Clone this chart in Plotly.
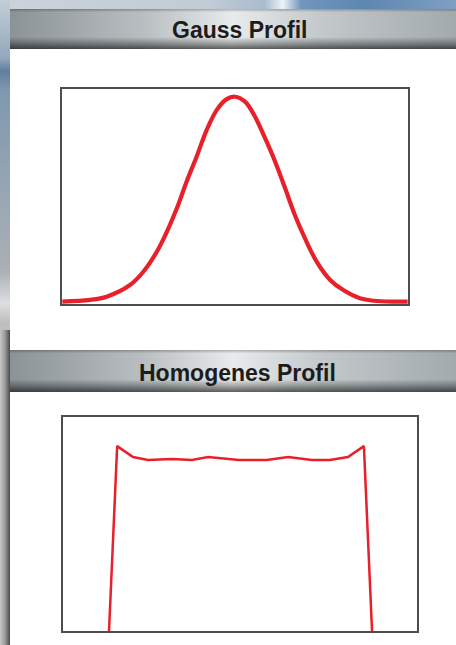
import base64
import plotly.graph_objects as go

# ---- Data ----
gauss_x = [0.1, 8.1, 12.9, 19.65, 23.5, 27.4, 30.3, 33.2, 36.0, 38.9, 41.8, 44.7, 47.6, 50.0,
           52.9, 55.8, 58.7, 61.6, 64.5, 67.3, 70.2, 73.6, 77.5, 81.3, 86.1, 91.0, 99.9]
gauss_y = [1.1, 1.9, 3.4, 8.8, 15.0, 24.3, 33.6, 44.5, 56.9, 68.5, 80.9, 90.2, 95.3, 96.4,
           94.1, 87.1, 77.1, 66.2, 53.8, 41.4, 30.6, 19.7, 11.2, 6.5, 2.7, 1.4, 1.1]

homog_x = [13.0, 15.3, 19.8, 24.0, 30.8, 36.4, 41.0, 49.7, 57.6, 63.6, 70.3, 75.4, 80.5, 85.0, 87.3]
homog_y = [0.0, 86.4, 81.3, 79.9, 80.4, 79.9, 81.3, 79.9, 79.9, 81.3, 79.9, 79.9, 81.3, 86.4, 0.0]

titles = ["Gauss Profil", "Homogenes Profil"]

W, H = 456, 645
RED = "#e8202a"
FRAME = "#4d4d4d"

# ---- Decorative background as an SVG image ----
svg = f'''<svg xmlns="http://www.w3.org/2000/svg" width="{W}" height="{H}" viewBox="0 0 {W} {H}">
<defs>
 <linearGradient id="topg" x1="0" y1="0" x2="1" y2="0">
  <stop offset="0" stop-color="#cbd3da"/>
  <stop offset="0.45" stop-color="#c2ccd6"/>
  <stop offset="0.58" stop-color="#a9bccd"/>
  <stop offset="0.62" stop-color="#eef3f7"/>
  <stop offset="0.66" stop-color="#7196bd"/>
  <stop offset="0.8" stop-color="#5d86b1"/>
  <stop offset="1" stop-color="#7fa0c2"/>
 </linearGradient>
 <linearGradient id="leftv" x1="0" y1="0" x2="0" y2="1">
  <stop offset="0" stop-color="#c4ced8"/>
  <stop offset="0.09" stop-color="#93a8bc"/>
  <stop offset="0.11" stop-color="#5e7fa0"/>
  <stop offset="0.14" stop-color="#7f98b0"/>
  <stop offset="0.3" stop-color="#98a6b3"/>
  <stop offset="0.42" stop-color="#aab0b5"/>
  <stop offset="0.47" stop-color="#dcdee0"/>
  <stop offset="0.5" stop-color="#bdbfc1"/>
  <stop offset="1" stop-color="#a0a0a0"/>
 </linearGradient>
 <linearGradient id="lefth" x1="0" y1="0" x2="1" y2="0">
  <stop offset="0" stop-color="#c8c8c8"/>
  <stop offset="0.5" stop-color="#9a9a9a"/>
  <stop offset="1" stop-color="#4a4a4a"/>
 </linearGradient>
 <linearGradient id="hdrh" x1="0" y1="0" x2="1" y2="0">
  <stop offset="0" stop-color="#8b9397"/>
  <stop offset="0.3" stop-color="#b9bec1"/>
  <stop offset="0.5" stop-color="#e8ebec"/>
  <stop offset="0.7" stop-color="#c3c8ca"/>
  <stop offset="1" stop-color="#a2aaae"/>
 </linearGradient>
 <linearGradient id="hdrv" x1="0" y1="0" x2="0" y2="1">
  <stop offset="0" stop-color="#000" stop-opacity="0.25"/>
  <stop offset="0.08" stop-color="#000" stop-opacity="0.0"/>
  <stop offset="0.7" stop-color="#000" stop-opacity="0.0"/>
  <stop offset="0.86" stop-color="#000" stop-opacity="0.3"/>
  <stop offset="1" stop-color="#000" stop-opacity="0.6"/>
 </linearGradient>
</defs>
<rect x="0" y="0" width="{W}" height="{H}" fill="#ffffff"/>
<rect x="0" y="0" width="{W}" height="10" fill="url(#topg)"/>
<rect x="0" y="0" width="10" height="{H}" fill="url(#leftv)"/>
<rect x="0" y="330" width="10" height="315" fill="url(#lefth)"/>
<rect x="10" y="9" width="446" height="40" fill="url(#hdrh)"/>
<rect x="10" y="9" width="446" height="40" fill="url(#hdrv)"/>
<rect x="10" y="350" width="446" height="42" fill="url(#hdrh)"/>
<rect x="10" y="350" width="446" height="42" fill="url(#hdrv)"/>
</svg>'''
bg_src = "data:image/svg+xml;base64," + base64.b64encode(svg.encode()).decode()

fig = go.Figure()
fig.add_trace(go.Scatter(x=gauss_x, y=gauss_y, mode="lines",
                         line=dict(color=RED, width=4.2, shape="spline", smoothing=1.0),
                         xaxis="x", yaxis="y", hoverinfo="skip"))
fig.add_trace(go.Scatter(x=homog_x, y=homog_y, mode="lines",
                         line=dict(color=RED, width=2.5),
                         xaxis="x2", yaxis="y2", hoverinfo="skip"))

ax_common = dict(showgrid=False, zeroline=False, showticklabels=False, ticks="",
                 showline=True, mirror=True, linecolor=FRAME, linewidth=1.5, fixedrange=True)

title_font = dict(family="Liberation Sans, Arial, sans-serif", size=23, color="#1c1c1c", weight="bold")

fig.update_layout(
    width=W, height=H, autosize=False,
    margin=dict(l=0, r=0, t=0, b=0, pad=0),
    paper_bgcolor="#ffffff", plot_bgcolor="rgba(0,0,0,0)",
    showlegend=False,
    xaxis=dict(domain=[62 / W, 408 / W], range=[0, 100], **ax_common),
    yaxis=dict(domain=[1 - 304 / H, 1 - 89 / H], range=[0, 100], **ax_common),
    xaxis2=dict(domain=[63 / W, 417 / W], range=[0, 100], anchor="y2", **ax_common),
    yaxis2=dict(domain=[1 - 631 / H, 1 - 417 / H], range=[0, 100], anchor="x2", **ax_common),
    images=[dict(source=bg_src, xref="paper", yref="paper", x=0, y=1, sizex=1, sizey=1,
                 xanchor="left", yanchor="top", sizing="stretch", layer="below")],
    annotations=[
        dict(text=titles[0], x=239 / W, y=1 - 30 / H, xref="paper", yref="paper",
             showarrow=False, xanchor="center", yanchor="middle", font=title_font),
        dict(text=titles[1], x=237 / W, y=1 - 373 / H, xref="paper", yref="paper",
             showarrow=False, xanchor="center", yanchor="middle", font=title_font),
    ],
)

fig.write_html("out.html", config={"displayModeBar": False},
               post_script="document.body.style.margin='0';")
